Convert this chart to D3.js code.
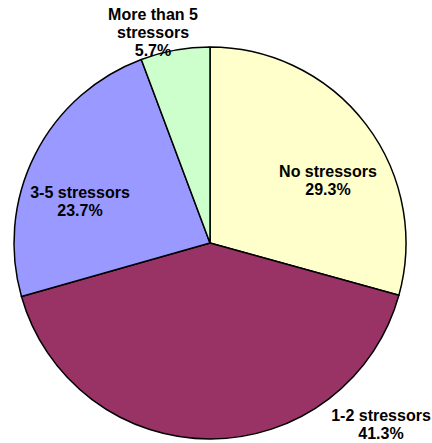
<!DOCTYPE html>
<html>
<head>
<meta charset="utf-8">
<script src="https://cdn.jsdelivr.net/npm/d3@7"></script>
<style>
  html, body { margin: 0; padding: 0; background: #fff; }
  svg { display: block; }
</style>
</head>
<body>
<svg id="chart" width="432" height="443"></svg>
<script>
// ---- data ----
const categories = ["No stressors", "1-2 stressors", "3-5 stressors", "More than 5 stressors"];
const values = [29.3, 41.3, 23.7, 5.7];
const labelLines = [["No stressors"], ["1-2 stressors"], ["3-5 stressors"], ["More than 5", "stressors"]];
const colors = ["#FFFFCC", "#993366", "#9999FF", "#CCFFCC"];
// label anchor offsets relative to pie centre (layout, not data)
const labelOffsets = [[118, -66], [171, 178], [-130, -45], [-57, -223]];

// ---- drawing ----
const svg = d3.select("#chart");
const cx = 210, cy = 243, r = 196;
const g = svg.append("g").attr("transform", `translate(${cx},${cy})`);

const pie = d3.pie().sort(null).value(d => d.value);
const arc = d3.arc().innerRadius(0).outerRadius(r);
const data = categories.map((c, i) => ({ cat: c, value: values[i], i }));
const arcs = pie(data);

g.selectAll("path.slice").data(arcs).join("path")
  .attr("class", "slice")
  .attr("d", arc)
  .attr("fill", d => colors[d.data.i])
  .attr("stroke", "#000")
  .attr("stroke-width", 1.5)
  .attr("stroke-linejoin", "round");

const fmt = v => v.toFixed(1) + "%";
const lineH = 18;
const labels = g.selectAll("text.lbl").data(arcs).join("text")
  .attr("class", "lbl")
  .attr("text-anchor", "middle")
  .attr("font-family", "'Liberation Sans', Arial, sans-serif")
  .attr("font-weight", "bold")
  .attr("font-size", 16)
  .attr("fill", "#000")
  .attr("transform", d => `translate(${labelOffsets[d.data.i][0]},${labelOffsets[d.data.i][1]})`);

labels.each(function(d) {
  const t = d3.select(this);
  const lines = labelLines[d.data.i].concat([fmt(d.data.value)]);
  lines.forEach((ln, k) => {
    t.append("tspan").attr("x", 0).attr("y", k * lineH).text(ln);
  });
});
</script>
</body>
</html>
